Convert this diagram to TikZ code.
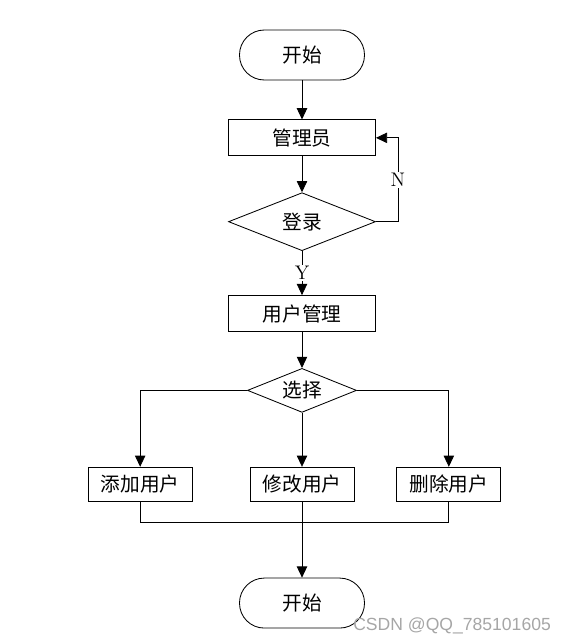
\documentclass[tikz,border=0pt]{standalone}
\usepackage{fontspec}
\newfontfamily\cjk{Noto Sans CJK SC}
\newfontfamily\wmfont{Liberation Sans}
\usetikzlibrary{arrows.meta, positioning, shapes.geometric}
\tikzset{
  base/.style   = {draw, line width=0.6pt, font=\cjk\fontsize{14}{16}\selectfont,
                   inner sep=0pt, align=center},
  term/.style   = {base, minimum width=3.125cm, minimum height=1.25cm,
                   rounded corners=0.62cm},
  box/.style    = {base, minimum width=3.675cm, minimum height=0.9cm},
  sbox/.style   = {base, minimum width=2.6cm, minimum height=0.85cm},
  dec/.style    = {base, diamond, aspect=2.5},
  lbl/.style    = {fill=white, inner sep=1pt, font=\fontsize{14}{16}\selectfont},
  arr/.style    = {-{Triangle[length=2.8mm, width=2.6mm]}, line width=0.6pt},
  ln/.style     = {line width=0.6pt}
}
\begin{document}
\begin{tikzpicture}
  \useasboundingbox (0,0) rectangle (14.1,-16.1);
  \node[term] (start) at (7.55,-1.375) {开始};
  \node[box,  below=0.975cm of start]  (admin)  {管理员};
  \node[dec,  below=0.9cm of admin, minimum width=3.675cm, minimum height=1.45cm] (login) {登录};
  \node[box,  below=1.1cm of login]    (manage) {用户管理};
  \node[dec,  below=0.9cm of manage, minimum width=2.725cm, minimum height=1.1cm] (choose) {选择};
  \node[sbox, below=1.35cm of choose]  (edit)   {修改用户};
  \node[sbox, left=1.425cm of edit]    (add)    {添加用户};
  \node[sbox, right=1.05cm of edit]    (del)    {删除用户};
  \node[term, below=1.9cm of edit]     (stop)   {开始};
  \node[anchor=west, text=gray!70, font=\wmfont\fontsize{12.5}{14}\selectfont,
        inner sep=0pt] (wm) at (8.825,-15.65) {CSDN @QQ\_785101605};
  \draw[arr] (start)  -- (admin);
  \draw[arr] (admin)  -- (login);
  \draw[arr] (login.east) -- ++(0.55,0) |- node[lbl, pos=0.25]{N} (admin.east);
  \draw[arr] (login)  -- node[lbl]{Y} (manage);
  \draw[arr] (manage) -- (choose);
  \draw[arr] (choose.west) -| (add.north);
  \draw[arr] (choose.south) -- (edit.north);
  \draw[arr] (choose.east) -| (del.north);
  \draw[ln]  (add.south) -- ++(0,-0.525) -| (del.south);
  \draw[arr] (edit)   -- (stop);
\end{tikzpicture}
\end{document}
